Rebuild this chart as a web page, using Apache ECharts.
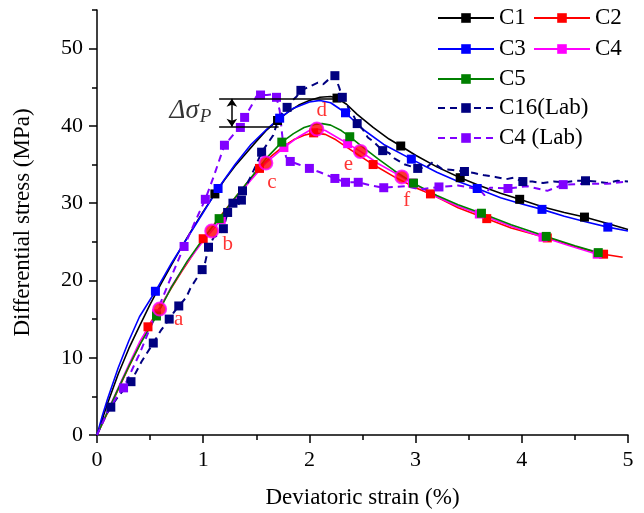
<!DOCTYPE html>
<html>
<head>
<meta charset="utf-8">
<script src="https://cdn.jsdelivr.net/npm/echarts@6/dist/echarts.min.js"></script>
<style>
html,body{margin:0;padding:0;background:#fff;}
#main{width:644px;height:513px;}
</style>
</head>
<body>
<div id="main"></div>
<script>
// strain in %, stress in MPa. *Mk arrays = points that carry a square marker
var c1Strain = [0,0.1,0.2,0.3,0.4,0.5,0.6,0.7,0.8,0.9,1.0,1.2,1.3,1.4,1.5,1.6,1.8,1.9,2.0,2.1,2.2,2.35,2.45,2.6,2.75,3.0,3.2,3.6,3.8,4.2,4.4,4.8,5.0];
var c1Stress = [0,4.1,7.9,11.2,14.1,16.9,19.5,22.0,24.4,26.7,28.9,33.0,34.8,36.4,38.0,39.5,41.8,42.7,43.3,43.7,43.8,42.8,41.5,39.8,38.3,36.2,34.7,32.3,31.3,29.5,28.8,27.4,26.6];
var c1MkStrain = [1.11,1.70,2.26,2.86,3.42,3.98,4.59];
var c1MkStress = [31.2,40.7,43.6,37.4,33.3,30.5,28.2];

var c2Strain = [0,0.1,0.2,0.3,0.4,0.6,0.7,0.8,0.9,1.1,1.2,1.3,1.4,1.65,1.75,1.85,1.95,2.15,2.25,2.4,2.8,3.0,3.4,3.9,4.5,4.95];
var c2Stress = [0,2.9,5.9,8.8,11.6,16.7,19.0,21.2,23.3,27.2,29.0,30.7,32.4,36.2,37.3,38.2,38.8,38.9,38.2,36.8,33.4,32.0,29.4,26.8,24.4,23.0];
var c2MkStrain = [0.48,1.0,1.53,2.04,2.6,3.14,3.67,4.24,4.77];
var c2MkStress = [14.0,25.4,34.5,39.1,35.0,31.2,28.0,25.5,23.4];

var c3Strain = [0,0.05,0.1,0.2,0.3,0.4,0.7,0.85,1.0,1.3,1.45,1.6,1.85,2.0,2.1,2.2,2.5,2.7,3.2,3.4,3.8,4.0,4.4,4.6,5.0];
var c3Stress = [0,2.5,4.7,8.7,12.2,15.3,22.2,25.5,28.8,35.0,37.6,39.6,42.3,43.1,43.3,43.0,39.6,37.6,34.0,32.8,30.7,29.9,28.3,27.6,26.4];
var c3MkStrain = [0.55,1.14,1.72,2.34,2.96,3.58,4.19,4.81];
var c3MkStress = [18.6,31.9,41.0,41.7,35.7,31.9,29.2,26.9];

var c4Strain = [0,0.1,0.2,0.3,0.4,0.59,0.7,0.85,1.0,1.08,1.3,1.45,1.59,1.9,2.0,2.07,2.15,2.25,2.48,2.65,2.87,3.2,3.4,3.9,4.45];
var c4Stress = [0,3.1,6.1,9.1,12.0,16.3,19.2,22.4,25.1,26.4,30.5,33.0,35.2,38.6,39.4,39.6,39.4,38.6,36.7,35.1,33.4,30.8,29.6,27.0,24.5];
var c4MkStrain = [0.56,1.17,1.76,2.36,2.97,3.6,4.2,4.71];
var c4MkStress = [15.7,27.9,37.2,37.7,32.6,28.6,25.6,23.4];

var c5Strain = [0,0.1,0.2,0.3,0.4,0.7,0.85,1.0,1.3,1.45,1.6,1.85,1.95,2.05,2.12,2.2,2.3,2.5,2.65,2.8,3.2,3.4,3.9,4.5];
var c5Stress = [0,3.0,6.0,8.9,11.6,19.1,22.5,25.4,30.7,33.3,35.9,39.0,39.8,40.2,40.3,40.1,39.4,37.3,35.7,34.2,31.0,29.8,27.2,24.5];
var c5MkStrain = [0.56,1.15,1.74,2.38,2.98,3.62,4.23,4.72];
var c5MkStress = [15.4,28.0,37.9,38.6,32.6,28.7,25.7,23.6];

var lab16Strain = [0,0.05,0.2,0.26,0.42,0.6,0.72,0.84,0.88,0.93,1.02,1.1,1.15,1.25,1.3,1.33,1.41,1.45,1.5,1.6,1.66,1.7,1.74,1.84,1.88,1.97,2.02,2.08,2.13,2.18,2.2,2.28,2.35,2.38,2.42,2.5,2.55,2.6,2.75,2.8,2.9,3.1,3.16,3.25,3.35,3.55,3.65,3.75,3.85,3.92,4.1,4.2,4.3,4.4,4.5,4.7,4.8,4.9,5.0];
var lab16Stress = [0,1.8,5.0,6.0,9.5,13.5,15.8,17.8,19.0,20.1,22.4,25.6,25.9,28.3,29.5,29.8,32.4,33.5,35.0,37.6,38.8,40.6,41.6,43.3,43.8,44.9,45.2,45.6,45.4,46.0,46.3,45.0,43.0,41.8,41.2,39.6,38.5,38.0,36.5,35.8,35.0,34.6,35.3,34.4,34.3,33.9,33.6,33.4,33.1,33.3,32.8,32.6,32.8,32.7,32.9,32.8,32.6,32.9,32.8];
var lab16MkStrain = [0.13,0.32,0.53,0.68,0.77,0.99,1.05,1.19,1.23,1.28,1.36,1.37,1.55,1.79,1.92,2.24,2.31,2.45,2.69,3.02,3.46,4.01,4.6];
var lab16MkStress = [3.6,6.9,11.9,15.0,16.7,21.4,24.3,26.7,28.8,30.0,30.4,31.6,36.6,42.4,44.6,46.5,43.7,40.3,36.8,34.5,34.1,32.8,32.9];

var lab4Strain = [0,0.1,0.18,0.4,0.55,0.7,0.92,1.1,1.28,1.45,1.5,1.6,1.65,1.72,1.75,1.78,1.9,2.1,2.58,2.9,3.05,3.4,3.6,3.65,3.7,4.05,4.24,4.6,4.8,5.0];
var lab4Stress = [0,3.0,4.8,10.5,15.5,20.5,27.5,33.5,38.8,42.5,43.8,44.0,44.1,42.0,38.0,36.0,35.0,34.0,32.3,32.2,31.8,32.3,31.8,31.0,32.0,32.2,31.6,32.5,32.5,32.8];
var lab4MkStrain = [0.25,0.82,1.02,1.2,1.35,1.39,1.54,1.69,1.82,2.0,2.24,2.34,2.46,2.7,3.22,3.87,4.39];
var lab4MkStress = [6.1,24.4,30.5,37.5,39.8,41.1,44.0,43.7,35.4,34.5,33.2,32.7,32.7,32.0,32.1,31.9,32.4];

// labelled states a-f
var ptNames = ['a','b','c','d','e','f'];
var ptStrain = [0.59,1.08,1.59,2.07,2.48,2.87];
var ptStress = [16.3,26.4,35.2,39.6,36.7,33.4];
var ptLabelOffset = [[19,10],[16,13],[6,19],[5,-19],[-12,13],[5,24]];

// delta sigma_P bracket
var dsTop = 43.5, dsBottom = 39.9;
var dsLeft = 1.15, dsTopEnd = 2.25, dsBottomEnd = 1.71, dsArrowX = 1.27;
var dsTextPos = [0.88, 42.0];

var FONT = "'Liberation Serif','Times New Roman',serif";

function makeData(xs, ys, mx, my){
	var pts = [];
	for (var i = 0; i < xs.length; i++) pts.push({value:[xs[i], ys[i]], symbol:'none'});
	for (var j = 0; j < mx.length; j++) pts.push({value:[mx[j], my[j]], symbol:'rect'});
	pts.sort(function(a, b){ return a.value[0] - b.value[0]; });
	return pts;
}

function lineSeries(name, color, data, dashed){
	return {
		name: name,
		type: 'line',
		data: data,
		symbol: 'rect',
		symbolSize: 9,
		showSymbol: true,
		showAllSymbol: true,
		smooth: false,
		lineStyle: {color: color, width: dashed ? 2 : 1.6, type: dashed ? [7, 5] : 'solid'},
		itemStyle: {color: color},
		emphasis: {disabled: true}
	};
}

function legendAt(name, left, top){
	return {
		data: [name],
		left: left,
		top: top,
		padding: 0,
		itemWidth: 56,
		itemHeight: 12,
		textStyle: {fontSize: 23, fontFamily: FONT, color: '#000', lineHeight: 24}
	};
}

var myChart = echarts.init(document.getElementById('main'));

var ptData = [];
for (var k = 0; k < ptNames.length; k++) {
	ptData.push({
		value: [ptStrain[k], ptStress[k]],
		name: ptNames[k],
		label: {offset: ptLabelOffset[k]}
	});
}

var option = {
	animation: false,
	backgroundColor: '#fff',
	grid: {left: 97, right: 16, top: 10, bottom: 78, outerBoundsMode: 'none'},
	legend: [
		legendAt('C1', 437, 6),
		legendAt('C2', 533, 6),
		legendAt('C3', 437, 37),
		legendAt('C4', 533, 37),
		legendAt('C5', 437, 67),
		legendAt('C16(Lab)', 437, 96),
		legendAt('C4 (Lab)', 437, 126)
	],
	xAxis: {
		type: 'value',
		min: 0, max: 5, interval: 1,
		name: 'Deviatoric strain (%)',
		nameLocation: 'middle',
		nameGap: 51,
		nameTextStyle: {fontSize: 23, fontFamily: FONT, color: '#000'},
		axisLine: {show: true, lineStyle: {color: '#000', width: 1.5}},
		axisTick: {show: true, inside: false, length: 8, lineStyle: {color: '#000', width: 1.5}},
		minorTick: {show: true, splitNumber: 2, length: 5, lineStyle: {color: '#000', width: 1.5}},
		axisLabel: {fontSize: 22, fontFamily: FONT, color: '#000', margin: 14},
		splitLine: {show: false}
	},
	yAxis: [{
		type: 'value',
		min: 0, max: 55, interval: 10,
		name: 'Differential stress (MPa)',
		nameLocation: 'middle',
		nameGap: 63,
		nameTextStyle: {fontSize: 23, fontFamily: FONT, color: '#000'},
		axisLine: {show: true, lineStyle: {color: '#000', width: 1.5}},
		axisTick: {show: true, inside: false, length: 8, customValues: [0,10,20,30,40,50], lineStyle: {color: '#000', width: 1.5}},
		axisLabel: {fontSize: 22, fontFamily: FONT, color: '#000', margin: 14, customValues: [0,10,20,30,40,50]},
		splitLine: {show: false}
	}, {
		type: 'value',
		min: 0, max: 55,
		position: 'left',
		axisLine: {show: false},
		axisTick: {show: true, inside: false, length: 5, customValues: [5,15,25,35,45,55], lineStyle: {color: '#000', width: 1.5}},
		axisLabel: {show: false},
		splitLine: {show: false}
	}],
	series: [
		lineSeries('C1', '#000000', makeData(c1Strain, c1Stress, c1MkStrain, c1MkStress), false),
		lineSeries('C2', '#ff0000', makeData(c2Strain, c2Stress, c2MkStrain, c2MkStress), false),
		lineSeries('C3', '#0000ff', makeData(c3Strain, c3Stress, c3MkStrain, c3MkStress), false),
		lineSeries('C4', '#ff00ff', makeData(c4Strain, c4Stress, c4MkStrain, c4MkStress), false),
		lineSeries('C5', '#008000', makeData(c5Strain, c5Stress, c5MkStrain, c5MkStress), false),
		lineSeries('C16(Lab)', '#000080', makeData(lab16Strain, lab16Stress, lab16MkStrain, lab16MkStress), true),
		lineSeries('C4 (Lab)', '#8000ff', makeData(lab4Strain, lab4Stress, lab4MkStrain, lab4MkStress), true),
		{
			name: 'states',
			type: 'scatter',
			data: ptData,
			symbol: 'circle',
			symbolSize: 13,
			itemStyle: {color: '#ff0000', borderColor: '#ff00ff', borderWidth: 2},
			label: {show: true, formatter: '{b}', position: 'inside', color: '#ff0000', fontSize: 21, fontFamily: FONT},
			emphasis: {disabled: true},
			z: 5
		},
		{
			name: 'dsig',
			type: 'scatter',
			data: [dsTextPos],
			symbol: 'circle',
			symbolSize: 1,
			itemStyle: {color: 'rgba(0,0,0,0)'},
			label: {
				show: true,
				position: 'inside',
				formatter: '{a|Δσ}{b|P}',
				rich: {
					a: {fontSize: 27, fontStyle: 'italic', fontFamily: FONT, color: '#000'},
					b: {fontSize: 19, fontStyle: 'italic', fontFamily: FONT, color: '#000', padding: [13, 0, 0, 1]}
				}
			},
			markLine: {
				silent: true,
				symbol: 'none',
				label: {show: false},
				lineStyle: {color: '#000', width: 1.5, type: 'solid'},
				data: [
					[{coord: [dsLeft, dsTop]}, {coord: [dsTopEnd, dsTop]}],
					[{coord: [dsLeft, dsBottom]}, {coord: [dsBottomEnd, dsBottom]}],
					[{coord: [dsArrowX, dsTop], symbol: 'arrow', symbolSize: 8}, {coord: [dsArrowX, dsBottom], symbol: 'arrow', symbolSize: 8}]
				]
			},
			emphasis: {disabled: true}
		}
	]
};

myChart.setOption(option);
</script>
</body>
</html>
